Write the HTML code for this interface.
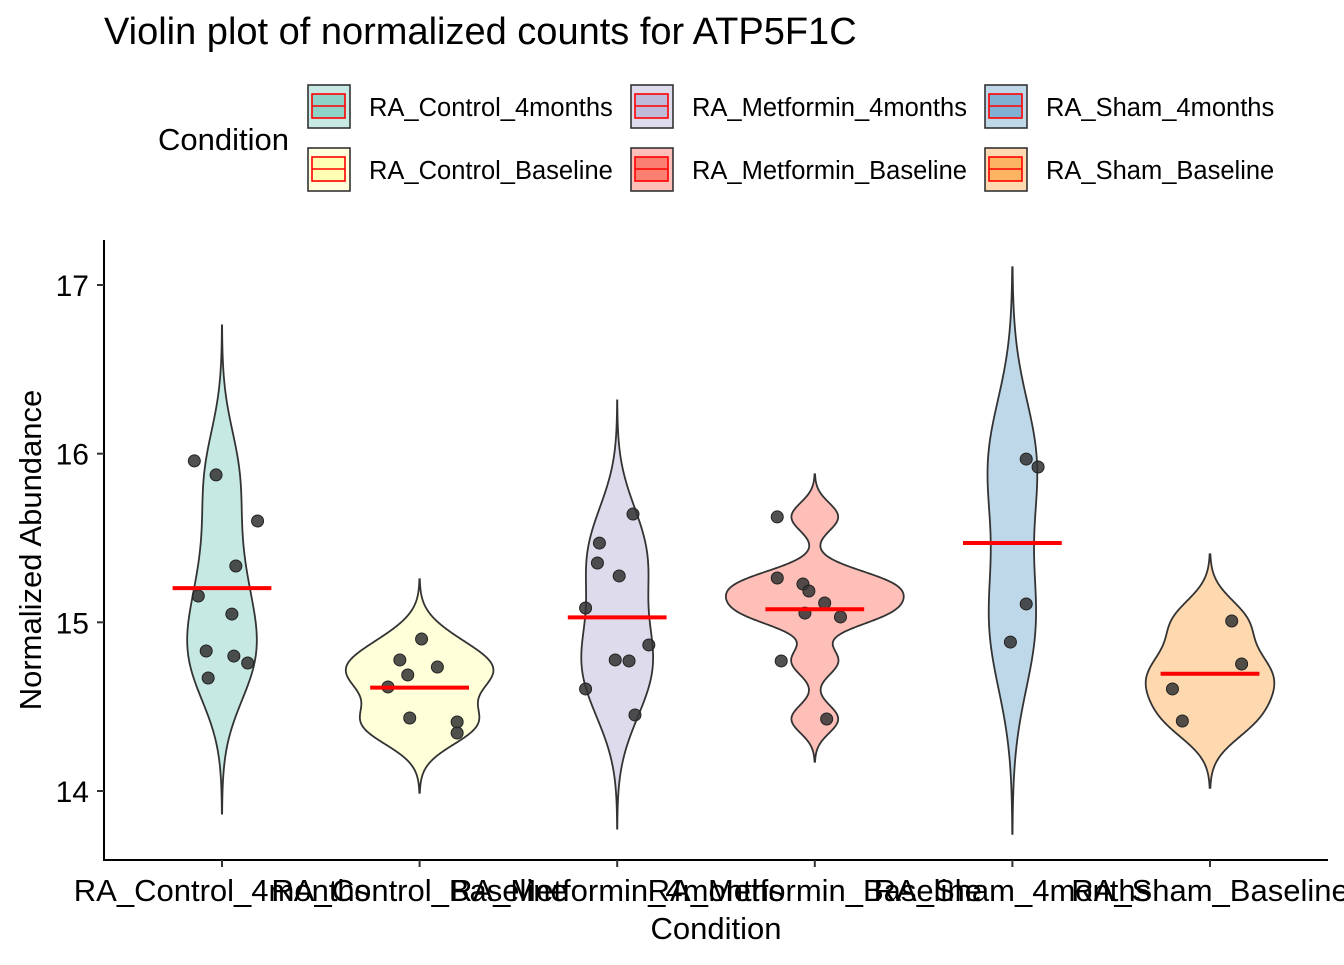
<!DOCTYPE html>
<html><head><meta charset="utf-8"><style>
body{margin:0;background:#fff}
svg text{font-family:"Liberation Sans",Arial,sans-serif}
</style></head><body>
<svg id="chart" width="1344" height="960" viewBox="0 0 1344 960" xmlns="http://www.w3.org/2000/svg">
<rect width="1344" height="960" fill="#fff"/>
<text x="104" y="44" font-size="38" fill="#000">Violin plot of normalized counts for ATP5F1C</text>
<g id="legend">
<text x="158" y="150" font-size="31" fill="#000">Condition</text>
</g>
<g id="panel"></g>
<line x1="104" y1="240" x2="104" y2="861" stroke="#000" stroke-width="2"/>
<line x1="103" y1="860" x2="1328" y2="860" stroke="#000" stroke-width="2"/>
<g id="axes"></g>
<text x="716" y="939" font-size="31" text-anchor="middle" fill="#000">Condition</text>
<text transform="translate(41,550) rotate(-90)" font-size="31" text-anchor="middle" fill="#000">Normalized Abundance</text>
</svg>
<script>
const categories = ["RA_Control_4months","RA_Control_Baseline","RA_Metformin_4months","RA_Metformin_Baseline","RA_Sham_4months","RA_Sham_Baseline"];
const colors = ["#8DD3C7","#FFFFB3","#BEBADA","#FB8072","#80B1D3","#FDB462"];
const values0 = [15.957,15.874,15.601,15.334,15.156,15.049,14.830,14.800,14.759,14.670];
const values1 = [14.901,14.777,14.735,14.688,14.617,14.433,14.409,14.344];
const values2 = [15.642,15.470,15.352,15.275,15.085,14.866,14.777,14.771,14.605,14.451];
const values3 = [15.625,15.263,15.227,15.186,15.115,15.055,15.032,14.771,14.427];
const values4 = [15.968,15.921,15.109,14.883];
const values5 = [15.008,14.753,14.605,14.415];
const jitter0 = [-0.14,-0.03,0.18,0.07,-0.12,0.05,-0.08,0.06,0.13,-0.07];
const jitter1 = [0.01,-0.1,0.09,-0.06,-0.16,-0.05,0.19,0.19];
const jitter2 = [0.08,-0.09,-0.1,0.01,-0.16,0.16,-0.01,0.06,-0.16,0.09];
const jitter3 = [-0.19,-0.19,-0.06,-0.03,0.05,-0.05,0.13,-0.17,0.06];
const jitter4 = [0.07,0.13,0.07,-0.01];
const jitter5 = [0.11,0.16,-0.19,-0.14];
const yTicks = [14,15,16,17];
const groups = [values0,values1,values2,values3,values4,values5];
const jitters = [jitter0,jitter1,jitter2,jitter3,jitter4,jitter5];

const NS="http://www.w3.org/2000/svg";
const yScale = v => 285 + (17 - v) * 168.67;
const xScale = i => 222 + i * 197.6;
const band = 197.6;
function mk(tag, attrs, parent){const e=document.createElementNS(NS,tag);for(const k in attrs)e.setAttribute(k,attrs[k]);parent.appendChild(e);return e;}
function quantile(s,p){const h=(s.length-1)*p;const lo=Math.floor(h);return s[lo]+(h-lo)*((s[lo+1]??s[lo])-s[lo]);}
function bwNrd0(a){const n=a.length;const m=a.reduce((x,y)=>x+y,0)/n;const sd=Math.sqrt(a.reduce((s,v)=>s+(v-m)**2,0)/(n-1));const s=[...a].sort((x,y)=>x-y);const iqr=quantile(s,0.75)-quantile(s,0.25);let lo=Math.min(sd,iqr/1.34);if(!(lo>0))lo=sd||1;return 0.9*lo*Math.pow(n,-0.2);}
function kde(a){const bw=bwNrd0(a);const mn=Math.min(...a)-3*bw,mx=Math.max(...a)+3*bw;const pts=[];const N=300;for(let i=0;i<=N;i++){const y=mn+(mx-mn)*i/N;let d=0;for(const v of a)d+=Math.exp(-0.5*((y-v)/bw)**2);d/=a.length*bw*Math.sqrt(2*Math.PI);pts.push([y,d]);}return pts;}
const dens = groups.map(kde);
const maxD = Math.max(...dens.map(p=>Math.max(...p.map(q=>q[1]))));
const panel=document.getElementById('panel');
dens.forEach((pts,i)=>{
  const cx=xScale(i);const hw=0.45*band;
  let d="";pts.forEach((p,j)=>{d+=(j?"L":"M")+(cx+hw*p[1]/maxD).toFixed(2)+","+yScale(p[0]).toFixed(2);});
  for(let j=pts.length-1;j>=0;j--){const p=pts[j];d+="L"+(cx-hw*p[1]/maxD).toFixed(2)+","+yScale(p[0]).toFixed(2);}
  d+="Z";
  const v=mk('path',{d:d,fill:colors[i],'fill-opacity':0.5,stroke:'#333',"stroke-width":1.8},panel);
  
  
});
groups.forEach((vals,i)=>{
  vals.forEach((v,j)=>{
    const c=mk('circle',{cx:xScale(i+jitters[i][j]),cy:yScale(v),r:6,fill:'#333','fill-opacity':0.85,stroke:'#222','stroke-width':1},panel);
    
    
  });
});
groups.forEach((vals,i)=>{
  const m=vals.reduce((a,b)=>a+b,0)/vals.length;
  const l=mk('line',{x1:xScale(i)-0.25*band,x2:xScale(i)+0.25*band,y1:yScale(m),y2:yScale(m),stroke:'#f00','stroke-width':4},panel);
  
  
});
const axes=document.getElementById('axes');
yTicks.forEach(t=>{
  const y=yScale(t);
  const tk=mk('line',{x1:97,x2:104,y1:y,y2:y,stroke:'#333','stroke-width':2},axes);
  
  
  const tx=mk('text',{x:89,y:y+11,'font-size':30,'text-anchor':'end',fill:'#000'},axes);
  tx.textContent=t;
  
  
});
categories.forEach((c,i)=>{
  const x=xScale(i);
  const tk=mk('line',{x1:x,x2:x,y1:860,y2:867,stroke:'#333','stroke-width':2},axes);
  
  
  const tx=mk('text',{x:x,y:901,'font-size':31,'text-anchor':'middle',fill:'#000'},axes);
  tx.textContent=c;
  
  
});
const legend=document.getElementById('legend');
const legOrder=[[0,0,0],[1,0,1],[2,1,0],[3,1,1],[4,2,0],[5,2,1]];
const colKeyX=[308,631,985];
legOrder.forEach(([i,col,row])=>{
  const kx=colKeyX[col], ky=85+row*63;
  const g=mk('g',{},legend);
  
  
  mk('rect',{x:kx,y:ky,width:42,height:43,fill:colors[i],'fill-opacity':0.5,stroke:'#333','stroke-width':1.6},g);
  mk('rect',{x:kx+4,y:ky+9,width:33,height:24,fill:colors[i],stroke:'#f00','stroke-width':1.6},g);
  mk('line',{x1:kx+4,x2:kx+37,y1:ky+21,y2:ky+21,stroke:'#f00','stroke-width':1.6},g);
  const t=mk('text',{x:kx+61,y:ky+31,'font-size':25.5,fill:'#000'},g);
  t.textContent=categories[i];
});
</script>
</body></html>
